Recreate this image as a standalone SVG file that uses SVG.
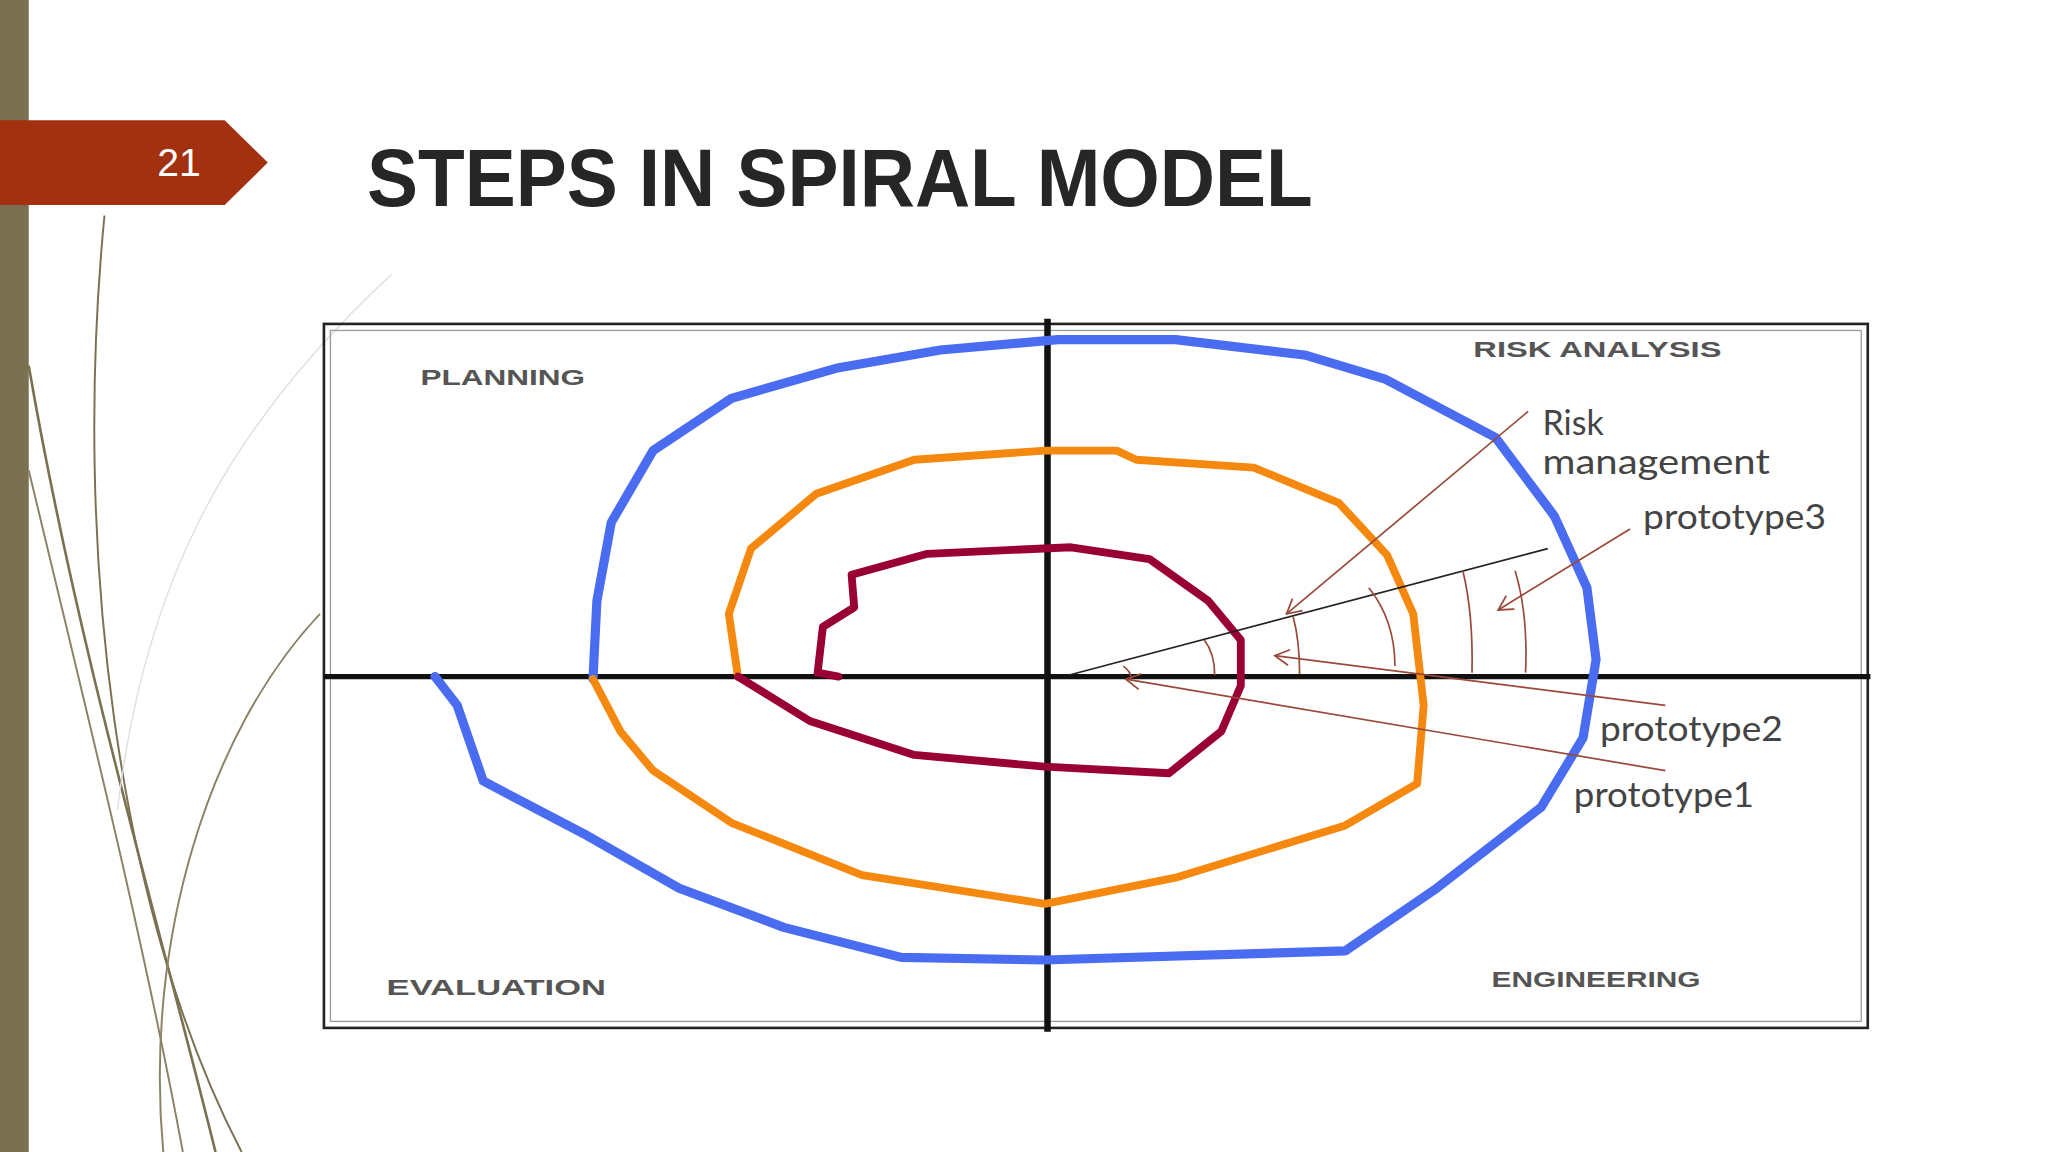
<svg xmlns="http://www.w3.org/2000/svg" width="2048" height="1152" viewBox="0 0 2048 1152">
<style>
.lbl{font-family:"Liberation Sans",Arial,sans-serif;font-size:17px;font-weight:bold;fill:#555}
.ann{font-family:"Lato","Liberation Sans",sans-serif;font-size:26px;fill:#444}
.br{stroke:#9a4a3a;stroke-width:1.3;fill:none}
.sp{fill:none;stroke-linejoin:round;stroke-linecap:round}
</style>
<defs>
<marker id="ah" markerWidth="14" markerHeight="14" refX="12" refY="7" orient="auto" markerUnits="userSpaceOnUse">
<path d="M1,1 L12,7 L1,13" fill="none" stroke="#9a4a3a" stroke-width="1.3"/>
</marker>
</defs>
<rect width="2048" height="1152" fill="#fff"/>
<g transform="scale(1.30612)">
<g id="decor" fill="none">
<rect x="0" y="0" width="22" height="882" fill="#7a7152"/>
<path d="M80,165 C55,420 90,700 185,882" stroke="#7a7152" stroke-width="1.5"/>
<path d="M22,280 C60,500 120,700 165,882" stroke="#7a7152" stroke-width="2"/>
<path d="M22,360 C70,560 110,720 140,882" stroke="#8a8466" stroke-width="1.5"/>
<path d="M245,470 C160,560 110,720 125,882" stroke="#8a8466" stroke-width="1.5"/>
<path d="M300,210 C170,330 110,450 90,620" stroke="#ddd" stroke-width="1"/>
</g>
<g id="tab">
<polygon points="0,92 172,92 205,124.5 172,157 0,157" fill="#a3300f"/>
<text x="137" y="135" text-anchor="middle" font-family="Liberation Sans,Arial,sans-serif" font-size="30" fill="#fff">21</text>
</g>
<text id="title" x="281" y="158" font-family="Liberation Sans,Arial,sans-serif" font-size="62" font-weight="bold" fill="#262626" textLength="724" lengthAdjust="spacingAndGlyphs">STEPS IN SPIRAL MODEL</text>
<g id="frame" fill="none" stroke="#222">
<rect x="248" y="248" width="1182" height="539" stroke-width="2"/>
<rect x="253" y="253" width="1172" height="529" stroke-width="1" stroke="#999"/>
<line x1="802" y1="244" x2="802" y2="790" stroke-width="5" stroke="#111"/>
<line x1="248" y1="518" x2="1432" y2="518" stroke-width="4" stroke="#111"/>
</g>
<g id="quadrant-labels">
<text class="lbl" x="322" y="295" textLength="126" lengthAdjust="spacingAndGlyphs">PLANNING</text>
<text class="lbl" x="1128" y="273" textLength="190" lengthAdjust="spacingAndGlyphs">RISK ANALYSIS</text>
<text class="lbl" x="296" y="762" textLength="168" lengthAdjust="spacingAndGlyphs">EVALUATION</text>
<text class="lbl" x="1142" y="756" textLength="160" lengthAdjust="spacingAndGlyphs">ENGINEERING</text>
</g>
<g id="spiral">
<path class="sp" stroke="#4a6cf0" stroke-width="7" d="M333,518 L350,540 L370,598 L450,640 L520,680 L600,710 L690,733 L800,735 L1030,728 L1100,680 L1180,618 L1212,565 L1222,505 L1215,450 L1190,395 L1145,335 L1060,290 L1000,272 L900,260 L810,260 L720,268 L640,282 L560,305 L500,345 L468,400 L457,460 L454,520"/>
<path class="sp" stroke="#f5890f" stroke-width="6" d="M454,520 L475,560 L500,590 L560,630 L660,670 L800,692 L900,672 L1030,632 L1085,600 L1090,540 L1082,470 L1062,425 L1025,385 L960,358 L870,352 L855,345 L800,345 L700,352 L625,378 L575,420 L558,470 L565,518"/>
<path class="sp" stroke="#990033" stroke-width="6" d="M565,518 L620,552 L700,578 L800,587 L895,592 L935,560 L950,525 L950,490 L925,460 L880,428 L820,419 L710,424 L652,440 L654,465 L630,480 L626,515 L642,518"/>
</g>
<g id="connectors">
<line x1="818" y1="517" x2="1185" y2="420" stroke="#222" stroke-width="1.3"/>
<line class="br" x1="1170" y1="315" x2="985" y2="470" marker-end="url(#ah)"/>
<line class="br" x1="1248" y1="405" x2="1147" y2="467" marker-end="url(#ah)"/>
<line class="br" x1="1275" y1="540" x2="976" y2="502" marker-end="url(#ah)"/>
<line class="br" x1="1275" y1="590" x2="862" y2="520" marker-end="url(#ah)"/>
<path class="br" d="M860,510 Q866,514 866,520"/>
<path class="br" d="M922,490 Q930,500 930,517"/>
<path class="br" d="M990,472 Q995,490 995,516"/>
<path class="br" d="M1048,450 Q1068,475 1068,510"/>
<path class="br" d="M1120,437 Q1128,470 1127,515"/>
<path class="br" d="M1160,437 Q1170,470 1168,515"/>
</g>
<g id="annotations">
<text class="ann" x="1181" y="333">Risk</text>
<text class="ann" x="1181" y="363" textLength="174" lengthAdjust="spacingAndGlyphs">management</text>
<text class="ann" x="1258" y="405" textLength="140" lengthAdjust="spacingAndGlyphs">prototype3</text>
<text class="ann" x="1225" y="567" textLength="140" lengthAdjust="spacingAndGlyphs">prototype2</text>
<text class="ann" x="1205" y="618" textLength="138" lengthAdjust="spacingAndGlyphs">prototype1</text>
</g>
</g>
</svg>
